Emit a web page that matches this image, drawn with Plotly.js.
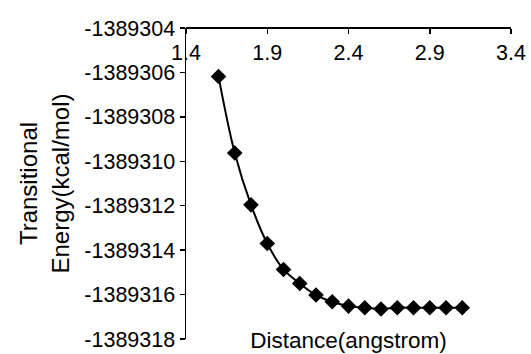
<!DOCTYPE html>
<html>
<head>
<meta charset="utf-8">
<script src="https://cdn.plot.ly/plotly-3.0.1.min.js"></script>
<style>html,body{margin:0;padding:0;background:#fff;}#chart{width:531px;height:354px;}</style>
</head>
<body>
<div id="chart"></div>
<script>
const distance = [1.6, 1.7, 1.8, 1.9, 2.0, 2.1, 2.2, 2.3, 2.4, 2.5, 2.6, 2.7, 2.8, 2.9, 3.0, 3.1];
const energy = [-1389306.18, -1389309.63, -1389311.96, -1389313.70, -1389314.87, -1389315.50,
                -1389316.02, -1389316.32, -1389316.52, -1389316.59, -1389316.65, -1389316.59,
                -1389316.59, -1389316.59, -1389316.59, -1389316.59];
const xTickVals = [1.4, 1.9, 2.4, 2.9, 3.4];
const xTickText = ['1.4', '1.9', '2.4', '2.9', '3.4'];
const yTickVals = [-1389304, -1389306, -1389308, -1389310, -1389312, -1389314, -1389316, -1389318];
const yTickText = ['-1389304', '-1389306', '-1389308', '-1389310', '-1389312', '-1389314', '-1389316', '-1389318'];
const xTitle = 'Distance(angstrom)';
const yTitle = 'Transitional<br>Energy(kcal/mol)';

const font = {family: 'Liberation Sans, Arial, sans-serif', size: 21.5, color: '#000'};
const xTitleFont = {family: 'Liberation Sans, Arial, sans-serif', size: 22.5, color: '#000'};
const yTitleFont = {family: 'Liberation Sans, Arial, sans-serif', size: 24, color: '#000'};

Plotly.newPlot('chart', [{
  x: distance, y: energy, type: 'scatter', mode: 'lines+markers',
  line: {color: '#000', width: 2, shape: 'spline'},
  marker: {symbol: 'diamond', size: 12, color: '#000'}
}], {
  width: 531, height: 354,
  margin: {l: 186, r: 20, t: 28, b: 15},
  showlegend: false,
  font: font,
  title: {text: xTitle, font: xTitleFont, xref: 'paper', x: 0.5, xanchor: 'center',
          yref: 'container', y: 0.04, yanchor: 'middle'},
  xaxis: {
    range: [1.4, 3.4], anchor: 'free', position: 1, side: 'bottom',
    showline: true, linecolor: '#000', linewidth: 2,
    gridcolor: 'rgba(0,0,0,0)',
    ticks: 'outside', ticklen: 5, tickcolor: '#000', tickwidth: 1.5,
    tickvals: xTickVals, ticktext: xTickText
  },
  yaxis: {
    range: [-1389318, -1389304],
    showline: true, linecolor: '#000', linewidth: 1.5,
    gridcolor: 'rgba(0,0,0,0)',
    ticks: 'outside', ticklen: 5, tickcolor: '#000', tickwidth: 1.5,
    tickvals: yTickVals, ticktext: yTickText,
    title: {text: yTitle, font: yTitleFont, standoff: 8}
  }
}, {displayModeBar: false, staticPlot: true});
</script>
</body>
</html>
